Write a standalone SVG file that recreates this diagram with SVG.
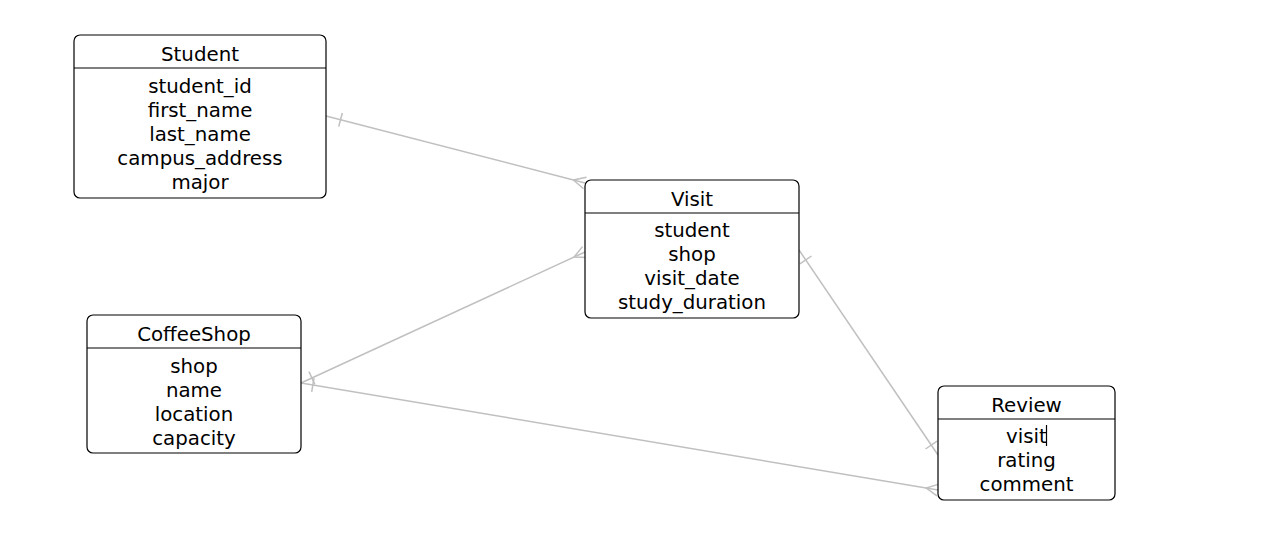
<svg xmlns="http://www.w3.org/2000/svg" width="1288" height="541" viewBox="0 0 1288 541">
<style>
.box{fill:#fff;stroke:#000;stroke-width:1.2}
.sep{stroke:#000;stroke-width:1.2}
.t{font-family:"DejaVu Sans",Verdana,sans-serif;font-size:19.8px;fill:#000;text-anchor:middle}
.c{fill:none;stroke:#c0c0c0;stroke-width:1.5}
</style>
<rect width="1288" height="541" fill="#fff"/>
<g id="connectors">
<line class="c" x1="326" y1="116" x2="585" y2="183"/>
<line class="c" x1="342.3" y1="113" x2="338.7" y2="126.6"/>
<polyline class="c" points="583.5,188.8 573.4,180 586.5,177.2"/>
<line class="c" x1="301" y1="383" x2="585" y2="252"/>
<line class="c" x1="314.8" y1="384.4" x2="309" y2="371.6"/>
<polyline class="c" points="587.5,257.4 574.1,257 582.5,246.6"/>
<line class="c" x1="799" y1="250" x2="938" y2="455"/>
<line class="c" x1="799.9" y1="263.8" x2="811.5" y2="256"/>
<line class="c" x1="925.5" y1="449" x2="937.1" y2="441.2"/>
<line class="c" x1="301" y1="383" x2="938" y2="490"/>
<line class="c" x1="311.7" y1="391.9" x2="314" y2="378.1"/>
<polyline class="c" points="937,495.9 926.2,488 939,484.1"/>
</g>
<g id="Student">
<rect class="box" x="74" y="35" width="252" height="163" rx="6"/>
<line class="sep" x1="74" y1="68" x2="326" y2="68"/>
<text class="t" x="200" y="61">Student</text>
<text class="t" x="200" y="93">student_id</text>
<text class="t" x="200" y="117">first_name</text>
<text class="t" x="200" y="141">last_name</text>
<text class="t" x="200" y="165">campus_address</text>
<text class="t" x="200" y="189">major</text>
</g>
<g id="Visit">
<rect class="box" x="585" y="180" width="214" height="138" rx="6"/>
<line class="sep" x1="585" y1="213" x2="799" y2="213"/>
<text class="t" x="692" y="206">Visit</text>
<text class="t" x="692" y="237">student</text>
<text class="t" x="692" y="261">shop</text>
<text class="t" x="692" y="285">visit_date</text>
<text class="t" x="692" y="309">study_duration</text>
</g>
<g id="CoffeeShop">
<rect class="box" x="87" y="315" width="214" height="138" rx="6"/>
<line class="sep" x1="87" y1="348" x2="301" y2="348"/>
<text class="t" x="194" y="341">CoffeeShop</text>
<text class="t" x="194" y="373">shop</text>
<text class="t" x="194" y="397">name</text>
<text class="t" x="194" y="421">location</text>
<text class="t" x="194" y="445">capacity</text>
</g>
<g id="Review">
<rect class="box" x="938" y="386" width="177" height="114" rx="6"/>
<line class="sep" x1="938" y1="419" x2="1115" y2="419"/>
<text class="t" x="1026.5" y="412">Review</text>
<text class="t" x="1026.5" y="443">visit</text>
<text class="t" x="1026.5" y="467">rating</text>
<text class="t" x="1026.5" y="491">comment</text>
<line x1="1046.5" y1="425" x2="1046.5" y2="446" stroke="#000" stroke-width="1.2"/>
</g>
</svg>
